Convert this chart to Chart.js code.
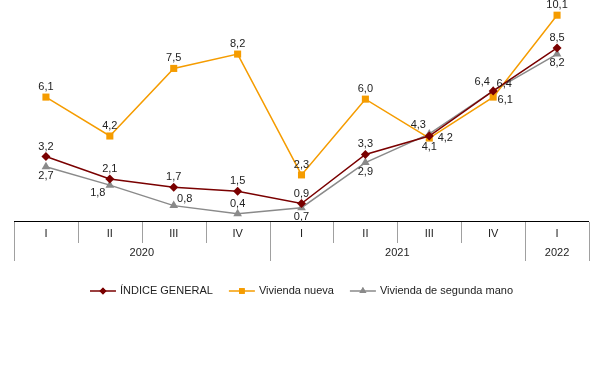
<!DOCTYPE html>
<html>
<head>
<meta charset="utf-8">
<script src="https://cdn.jsdelivr.net/npm/chart.js@4.4.0/dist/chart.umd.min.js"></script>
<style>
  html, body { margin: 0; padding: 0; background: #fff; }
  #wrap { width: 615px; height: 365px; position: relative; }
</style>
</head>
<body>
<div id="wrap"><canvas id="chart"></canvas></div>
<script>
// DATA
const quarters = ['I', 'II', 'III', 'IV', 'I', 'II', 'III', 'IV', 'I'];
const years = ['2020', '2021', '2022'];
const quartersPerYear = [4, 4, 1];

const indiceGeneral = [3.2, 2.1, 1.7, 1.5, 0.9, 3.3, 4.2, 6.4, 8.5];
const viviendaNueva = [6.1, 4.2, 7.5, 8.2, 2.3, 6.0, 4.1, 6.1, 10.1];
const viviendaSegunda = [2.7, 1.8, 0.8, 0.4, 0.7, 2.9, 4.3, 6.4, 8.2];

// label placement around each point
const posGeneral = ['t', 't', 't', 't', 't', 't', 'r', 'tl', 't'];
const posNueva = ['t', 't', 't', 't', 't', 't', 'b', 'br', 't'];
const posSegunda = ['b', 'bl', 'tr', 't', 'b', 'b', 'tl', 'tr', 'b'];

const OFFSETS = {
    t: [0, -10], b: [0, 9], r: [16, 2], tl: [-11, -9], tr: [11, -7],
    bl: [-12, 8], br: [12, 3]
};

const FONT = '11px "Liberation Sans", Arial, sans-serif';
const TEXT = '#222';

// LABELS + X AXIS + LEGEND
const decorPlugin = {
    id: 'decor',
    afterDatasetsDraw(chart) {
        const { ctx } = chart;
        ctx.save();
        ctx.font = FONT;
        ctx.fillStyle = TEXT;
        ctx.textAlign = 'center';
        ctx.textBaseline = 'middle';
        chart.data.datasets.forEach((ds, i) => {
            const meta = chart.getDatasetMeta(i);
            meta.data.forEach((pt, j) => {
                const off = OFFSETS[ds.labelPos[j]];
                const txt = ds.data[j].toFixed(1).replace('.', ',');
                ctx.fillText(txt, pt.x + off[0], pt.y + off[1]);
            });
        });
        ctx.restore();
    },
    afterDraw(chart) {
        const { ctx, chartArea } = chart;
        const x = chart.scales.x;
        const left = chartArea.left, right = chartArea.right, base = chartArea.bottom;
        const step = (right - left) / quarters.length;
        ctx.save();
        ctx.lineWidth = 1;

        // quarter dividers
        ctx.strokeStyle = '#a0a0a0';
        for (let i = 1; i < quarters.length; i++) {
            const px = Math.round(left + step * i) + 0.5;
            ctx.beginPath();
            ctx.moveTo(px, base);
            ctx.lineTo(px, base + 21);
            ctx.stroke();
        }
        // year dividers
        let idx = 0;
        const yearBounds = [0];
        quartersPerYear.forEach(n => { idx += n; yearBounds.push(idx); });
        yearBounds.forEach(b => {
            const px = Math.round(left + step * b) + 0.5;
            ctx.beginPath();
            ctx.moveTo(px, base);
            ctx.lineTo(px, base + 39);
            ctx.stroke();
        });
        // axis line
        ctx.strokeStyle = '#000';
        ctx.beginPath();
        ctx.moveTo(left, base - 0.5);
        ctx.lineTo(right, base - 0.5);
        ctx.stroke();

        ctx.font = FONT;
        ctx.fillStyle = TEXT;
        ctx.textAlign = 'center';
        ctx.textBaseline = 'middle';
        quarters.forEach((q, i) => {
            ctx.fillText(q, x.getPixelForValue(i), base + 12);
        });
        years.forEach((y, i) => {
            const cx = left + step * (yearBounds[i] + yearBounds[i + 1]) / 2;
            ctx.fillText(y, cx, base + 31);
        });

        // legend
        const items = chart.data.datasets;
        const lineLen = 26, gapText = 4, gapItem = 16;
        const widths = items.map(d => ctx.measureText(d.label).width);
        const total = widths.reduce((a, w) => a + lineLen + gapText + w, 0) + gapItem * (items.length - 1);
        let lx = (left + right) / 2 - total / 2;
        const ly = 291;
        items.forEach((d, i) => {
            ctx.strokeStyle = d.borderColor;
            ctx.lineWidth = 1.5;
            ctx.beginPath();
            ctx.moveTo(lx, ly);
            ctx.lineTo(lx + lineLen, ly);
            ctx.stroke();
            ctx.fillStyle = d.borderColor;
            Chart.helpers.drawPoint(ctx, {
                pointStyle: d.pointStyle, radius: d.legendRadius, borderWidth: 0
            }, lx + lineLen / 2, ly);
            ctx.fill();
            ctx.fillStyle = TEXT;
            ctx.textAlign = 'left';
            ctx.fillText(d.label, lx + lineLen + gapText, ly);
            lx += lineLen + gapText + widths[i] + gapItem;
        });
        ctx.restore();
    }
};

new Chart(document.getElementById('chart'), {
    type: 'line',
    data: {
        labels: quarters,
        datasets: [{
            label: 'ÍNDICE GENERAL',
            data: indiceGeneral,
            labelPos: posGeneral,
            borderColor: '#7a0000',
            backgroundColor: '#7a0000',
            borderWidth: 1.5,
            pointStyle: 'rectRot',
            pointRadius: 4.5,
            legendRadius: 3.5,
            pointBorderWidth: 0
        }, {
            label: 'Vivienda nueva',
            data: viviendaNueva,
            labelPos: posNueva,
            borderColor: '#f59c00',
            backgroundColor: '#f59c00',
            borderWidth: 1.5,
            pointStyle: 'rect',
            pointRadius: 5,
            legendRadius: 4,
            pointBorderWidth: 0
        }, {
            label: 'Vivienda de segunda mano',
            data: viviendaSegunda,
            labelPos: posSegunda,
            borderColor: '#8a8a8a',
            backgroundColor: '#8a8a8a',
            borderWidth: 1.5,
            pointStyle: 'triangle',
            pointRadius: 5,
            legendRadius: 4,
            pointBorderWidth: 0
        }]
    },
    options: {
        responsive: true,
        maintainAspectRatio: false,
        animation: false,
        layout: { padding: { top: 7, left: 14, right: 26, bottom: 143 } },
        plugins: {
            legend: { display: false },
            tooltip: { enabled: false }
        },
        elements: { line: { tension: 0 } },
        scales: {
            x: { display: false, offset: true },
            y: { display: false, min: 0, max: 10.5 }
        }
    },
    plugins: [decorPlugin]
});
</script>
</body>
</html>
